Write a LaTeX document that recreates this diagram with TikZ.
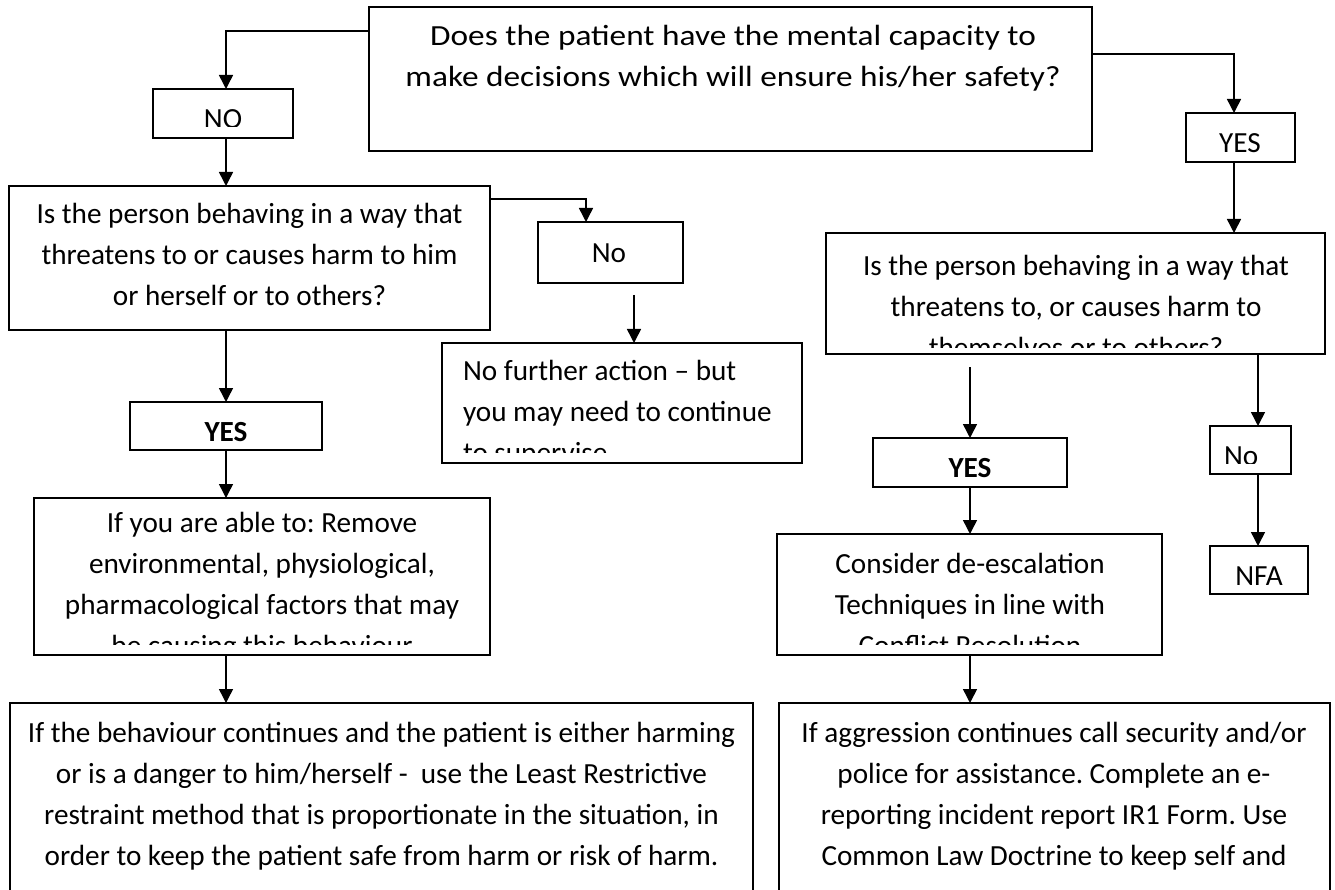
\documentclass[tikz,border=0pt]{standalone}
\usepackage{fontspec}
\setmainfont{Carlito}
\newfontfamily\widefont[FakeStretch=1.14]{Carlito}
\usetikzlibrary{arrows.meta,calc}
\begin{document}
\frenchspacing
\begin{tikzpicture}[x=1pt,y=-1pt,
  bx/.style={draw, line width=1.5pt, inner sep=0pt, outer sep=0pt, rectangle},
  tx/.style={inner sep=0pt, outer sep=0pt, align=center, anchor=north,
    font=\fontsize{29.2}{41}\selectfont, execute at begin node={\rule{0pt}{22pt}}},
  txw/.style={tx, font=\widefont\fontsize{29.2}{41}\selectfont},
  arr/.style={line width=1.5pt, -{Triangle[length=14pt,width=14pt]}}]
\clip (0,0) rectangle (1335,890);
\fill[white] (0,0) rectangle (1335,890);

% boxes
\node[bx, minimum width=723pt, minimum height=144pt] (top) at (730.5,79) {};
\node[bx, minimum width=140pt, minimum height=49pt] (NO) at (223,113.5) {};
\node[bx, minimum width=109pt, minimum height=49pt] (YESr) at (1240.5,137.5) {};
\node[bx, minimum width=481pt, minimum height=144pt] (Q1) at (249.5,258) {};
\node[bx, minimum width=145pt, minimum height=61pt] (No1) at (610.5,252.5) {};
\node[bx, minimum width=360pt, minimum height=120pt] (NFAct) at (622,403) {};
\node[bx, minimum width=192pt, minimum height=48pt] (YES1) at (226,426) {};
\node[bx, minimum width=456pt, minimum height=157pt] (IfYou) at (262,576.5) {};
\node[bx, minimum width=743pt, minimum height=217pt] (Bot1) at (381.5,811.5) {};
\node[bx, minimum width=499pt, minimum height=121pt] (Q2) at (1075.5,293.5) {};
\node[bx, minimum width=194pt, minimum height=49pt] (YES2) at (970,462.5) {};
\node[bx, minimum width=81pt, minimum height=48pt] (No2) at (1250.5,450) {};
\node[bx, minimum width=385pt, minimum height=121pt] (Cons) at (969.5,594.5) {};
\node[bx, minimum width=98pt, minimum height=48pt] (NFA) at (1259,570) {};
\node[bx, minimum width=551pt, minimum height=217pt] (Bot2) at (1054.5,811.5) {};

% texts
\node[txw] (tTop) at (733,25) {Does the patient have the mental capacity to\\make decisions which will ensure his/her safety?};
\begin{scope}
  \clip (153,89) rectangle (293,127);
  \node[tx] (tNO) at (223,107) {NO};
\end{scope}
\node[tx] (tYESr) at (1240,131) {YES};
\node[tx] (tQ1) at (249.5,203) {Is the person behaving in a way that\\threatens to or causes harm to him\\or herself or to others?};
\node[tx] (tNo1) at (609,241) {No};
\begin{scope}
  \clip (442,343) rectangle (802,452);
  \node[tx, align=left, anchor=north west] (tNFAct) at (463,360) {No further action – but\\you may need to continue\\to supervise};
\end{scope}
\node[tx] (tYES1) at (226,419) {\bfseries YES};
\begin{scope}
  \clip (34,498) rectangle (490,644);
  \node[tx] (tIfYou) at (262,512) {If you are able to: Remove\\environmental, physiological,\\pharmacological factors that may\\be causing this behaviour};
\end{scope}
\node[tx] (tBot1) at (381.5,722) {If the behaviour continues and the patient is either harming\\or is a danger to him/herself - \ use the Least Restrictive\\restraint method that is proportionate in the situation, in\\order to keep the patient safe from harm or risk of harm.};
\begin{scope}
  \clip (826,233) rectangle (1325,347);
  \node[tx] (tQ2) at (1076,255) {Is the person behaving in a way that\\threatens to, or causes harm to\\themselves or to others?};
\end{scope}
\node[tx] (tYES2) at (970,455) {\bfseries YES};
\begin{scope}
  \clip (1210,426) rectangle (1291,463);
  \node[tx, anchor=north west] (tNo2) at (1224,443) {No};
\end{scope}
\begin{scope}
  \clip (777,534) rectangle (1162,644);
  \node[tx] (tCons) at (970,553) {Consider de-escalation\\Techniques in line with\\Conflict Resolution};
\end{scope}
\node[tx] (tNFA) at (1259,563) {NFA};
\node[tx] (tBot2) at (1054,722) {If aggression continues call security and/or\\police for assistance. Complete an e-\\reporting incident report IR1 Form. Use\\Common Law Doctrine to keep self and};

% connectors
\coordinate (xl) at (226,0);
\coordinate (xa) at (586,0);
\coordinate (xr) at (1234,0);
\coordinate (xm) at (970,0);
\coordinate (xn) at (1258,0);
\coordinate (s1) at (634,295);
\coordinate (s2) at (970,367);
\draw[arr] ([yshift=-24pt]top.north west) -| (NO.north -| xl);
\draw[arr] (NO.south -| xl) -- (Q1.north -| xl);
\draw[arr] ([yshift=-13pt]Q1.north east) -| (No1.north -| xa);
\draw[arr] (s1) -- (NFAct.north -| s1);
\draw[arr] (Q1.south -| xl) -- (YES1.north -| xl);
\draw[arr] (YES1.south -| xl) -- (IfYou.north -| xl);
\draw[arr] (IfYou.south -| xl) -- (Bot1.north -| xl);
\draw[arr] ([yshift=-47pt]top.north east) -| (YESr.north -| xr);
\draw[arr] (YESr.south -| xr) -- (Q2.north -| xr);
\draw[arr] (s2) -- (YES2.north -| s2);
\draw[arr] (YES2.south -| xm) -- (Cons.north -| xm);
\draw[arr] (Cons.south -| xm) -- (Bot2.north -| xm);
\draw[arr] (Q2.south -| xn) -- (No2.north -| xn);
\draw[arr] (No2.south -| xn) -- (NFA.north -| xn);
\end{tikzpicture}
\end{document}
